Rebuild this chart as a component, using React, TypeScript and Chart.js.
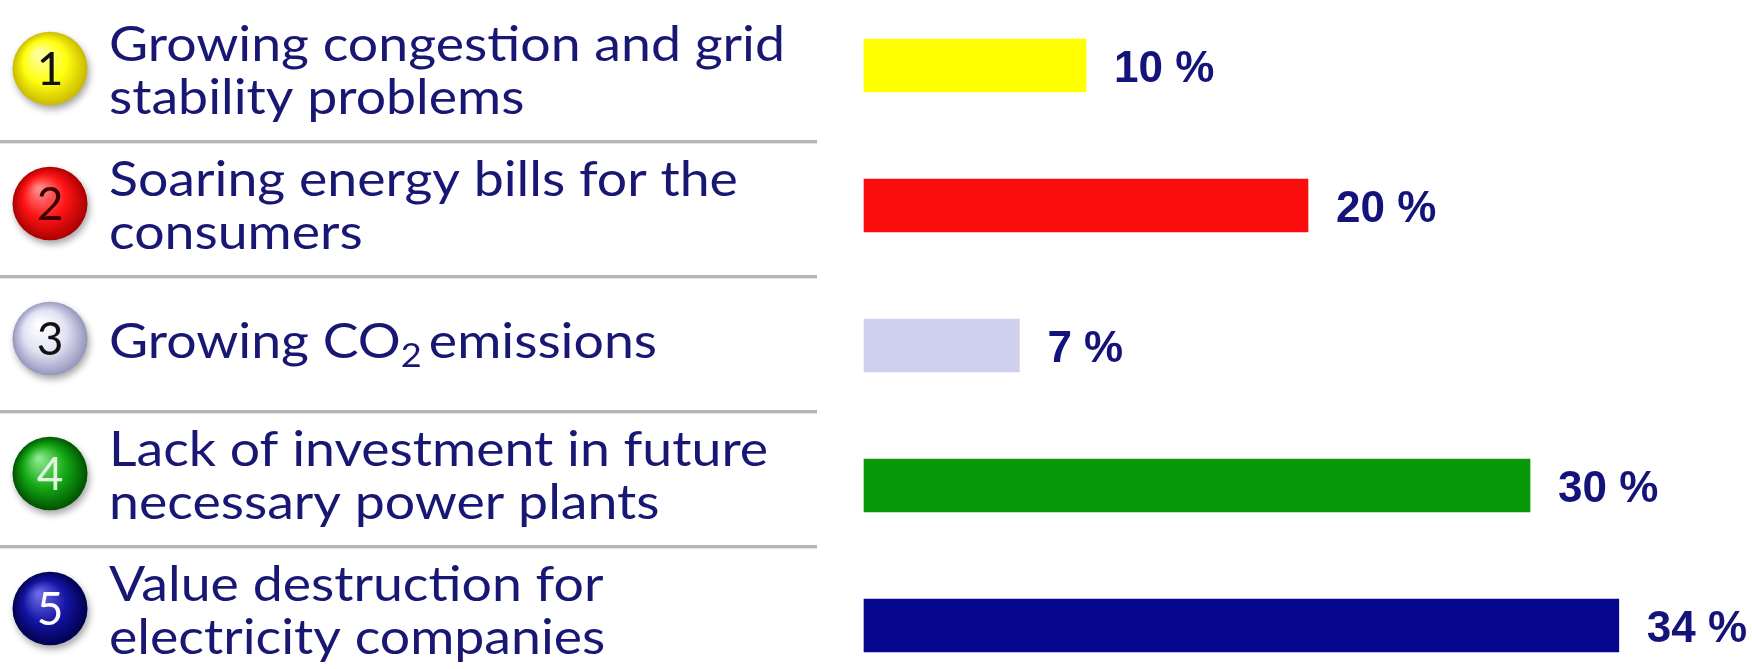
import React, { useEffect, useRef } from "react";
import { Chart, registerables } from "chart.js";

Chart.register(...registerables);

// ---- data ----
const categories = [
  "Growing congestion and grid stability problems",
  "Soaring energy bills for the consumers",
  "Growing CO₂ emissions",
  "Lack of investment in future necessary power plants",
  "Value destruction for electricity companies",
];
const labelLines = [
  ["Growing congestion and grid", "stability problems"],
  ["Soaring energy bills for the", "consumers"],
  ["Growing CO₂ emissions"],
  ["Lack of investment in future", "necessary power plants"],
  ["Value destruction for", "electricity companies"],
];
const itemNumbers = ["1", "2", "3", "4", "5"];
const values = [10, 20, 7, 30, 34];
const valueLabels = ["10 %", "20 %", "7 %", "30 %", "34 %"];

// ---- styles ----
const barColors = ["#ffff00", "#fc0d0d", "#cfcfee", "#079907", "#06068e"];
const circleStops = [
  ["#ffffa8", "#ffff10", "#c9b800"],
  ["#ff8a8a", "#ff1414", "#a80000"],
  ["#ffffff", "#e2e2f4", "#9494bc"],
  ["#8ae88a", "#14a814", "#005000"],
  ["#6a6ae8", "#1414a4", "#00004c"],
];
const numberColors = ["#111111", "#3a0000", "#111111", "#dff5df", "#ffffff"];
const TEXT_COLOR = "#181874";
const VALUE_COLOR = "#13137a";
const TEXT_FONT = "Lato";

function drawRich(ctx: CanvasRenderingContext2D, text: string, x: number, y: number, sx: number, size: number) {
  ctx.save();
  ctx.translate(x, y);
  ctx.scale(sx, 1);
  let cx = 0;
  const parts = text.split("₂");
  parts.forEach((p, i) => {
    ctx.font = `${size}px ${TEXT_FONT}`;
    ctx.fillText(p, cx, 0);
    cx += ctx.measureText(p).width;
    if (i < parts.length - 1) {
      ctx.font = `${Math.round(size * 0.68)}px ${TEXT_FONT}`;
      ctx.fillText("2", cx, 9);
      cx += ctx.measureText("2").width - 6;
    }
  });
  ctx.restore();
}

const leftPanel = {
  id: "leftPanel",
  afterDraw(chart: any) {
    const ctx: CanvasRenderingContext2D = chart.ctx;
    const n = labelLines.length;
    const ROW0 = 73.5;
    const PITCH = 135;
    const TEXT_X = 109;
    const SIZE = 49;
    ctx.save();
    // separators
    for (let i = 0; i < n - 1; i++) {
      const y = ROW0 + PITCH * (i + 0.5);
      ctx.fillStyle = "#b5b5b5";
      ctx.fillRect(0, Math.round(y - 1.5), 817, 3);
      ctx.fillStyle = "#e4e4e4";
      ctx.fillRect(0, Math.round(y + 1.5), 817, 1);
    }
    // circles
    for (let i = 0; i < n; i++) {
      const cx = 50;
      const cy = ROW0 + PITCH * i - 5;
      const r = 37.5;
      const [hi, mid, edge] = circleStops[i];
      ctx.save();
      ctx.shadowColor = "rgba(0,0,0,0.35)";
      ctx.shadowBlur = 7;
      ctx.shadowOffsetX = 2;
      ctx.shadowOffsetY = 4;
      const g = ctx.createRadialGradient(cx - r * 0.3, cy - r * 0.4, r * 0.05, cx, cy, r);
      g.addColorStop(0, hi);
      g.addColorStop(0.55, mid);
      g.addColorStop(1, edge);
      ctx.fillStyle = g;
      ctx.beginPath();
      ctx.ellipse(cx, cy, r, r * 0.98, 0, 0, Math.PI * 2);
      ctx.fill();
      ctx.restore();
      ctx.fillStyle = numberColors[i];
      ctx.font = `46px ${TEXT_FONT}`;
      ctx.textAlign = "center";
      ctx.textBaseline = "middle";
      ctx.fillText(itemNumbers[i], cx, cy + 2);
    }
    // text
    ctx.textAlign = "left";
    ctx.textBaseline = "alphabetic";
    ctx.fillStyle = TEXT_COLOR;
    ctx.font = `${SIZE}px ${TEXT_FONT}`;
    const sx = 676 / ctx.measureText(labelLines[0][0]).width;
    for (let i = 0; i < n; i++) {
      const rc = ROW0 + PITCH * i;
      const lines = labelLines[i];
      if (lines.length === 1) {
        drawRich(ctx, lines[0], TEXT_X, rc + 14, sx, SIZE);
      } else {
        lines.forEach((ln, j) => drawRich(ctx, ln, TEXT_X, rc - 13 + j * 53, sx, SIZE));
      }
    }
    ctx.restore();
  },
};

const valueLabelPlugin = {
  id: "valueLabels",
  afterDatasetsDraw(chart: any) {
    const ctx: CanvasRenderingContext2D = chart.ctx;
    const meta = chart.getDatasetMeta(0);
    ctx.save();
    ctx.fillStyle = VALUE_COLOR;
    ctx.font = `bold 44px "Liberation Sans", Arial, sans-serif`;
    ctx.textAlign = "left";
    ctx.textBaseline = "middle";
    meta.data.forEach((bar: any, i: number) => {
      ctx.fillText(valueLabels[i], bar.x + 28, bar.y + 4);
    });
    ctx.restore();
  },
};

export default function App() {
  const ref = useRef<HTMLCanvasElement | null>(null);
  useEffect(() => {
    if (!ref.current) return;
    const chart = new Chart(ref.current, {
      type: "bar",
      data: {
        labels: categories,
        datasets: [
          {
            data: values,
            backgroundColor: barColors,
            borderWidth: 0,
            barThickness: 53,
            clip: false as any,
          },
        ],
      },
      options: {
        indexAxis: "y",
        animation: false,
        responsive: true,
        maintainAspectRatio: false,
        events: [],
        layout: { padding: { left: 864, right: 0, top: 65.5, bottom: 43.5 } },
        plugins: { legend: { display: false }, tooltip: { enabled: false } },
        scales: {
          x: { type: "linear", min: 0, max: 40, display: false },
          y: { type: "category", offset: false, display: false },
        },
      },
      plugins: [leftPanel, valueLabelPlugin],
    });
    return () => chart.destroy();
  }, []);
  return (
    <div style={{ position: "fixed", left: 0, top: 0, width: 1752, height: 669, background: "#ffffff" }}>
      <canvas ref={ref} />
    </div>
  );
}
